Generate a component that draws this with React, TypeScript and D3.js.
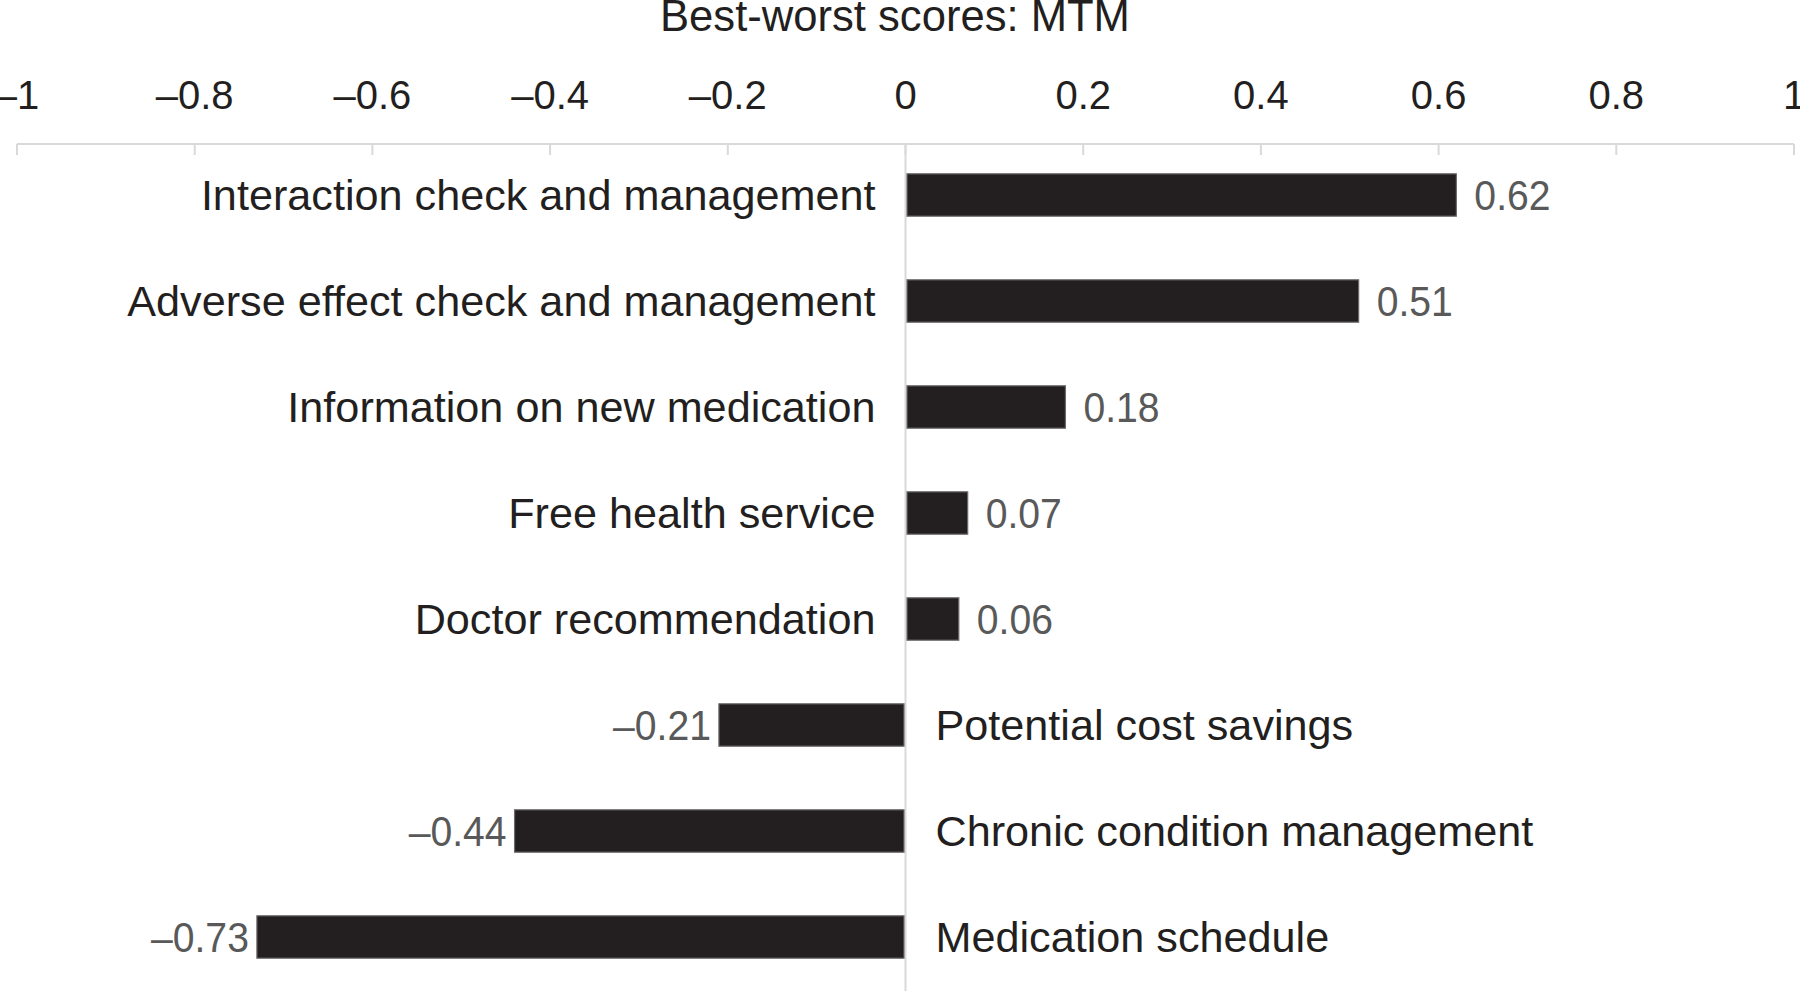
import { useEffect, useRef } from "react";
import * as d3 from "d3";

const categories = [
  "Interaction check and management",
  "Adverse effect check and management",
  "Information on new medication",
  "Free health service",
  "Doctor recommendation",
  "Potential cost savings",
  "Chronic condition management",
  "Medication schedule",
];
const scores = [0.62, 0.51, 0.18, 0.07, 0.06, -0.21, -0.44, -0.73];
const tickValues = [-1, -0.8, -0.6, -0.4, -0.2, 0, 0.2, 0.4, 0.6, 0.8, 1];
const axisTitle = "Best-worst scores: MTM";

const W = 1800;
const H = 991;
const FONT = "'Liberation Sans', Arial, Helvetica, sans-serif";

// en dash for negative numbers, like the original figure
const fmtTick = (v: number) => {
  const s = d3.format("~g")(Math.abs(v));
  return v < 0 ? "\u2013" + s : s;
};
const fmtValue = (v: number) => (v < 0 ? "\u2013" : "") + Math.abs(v).toFixed(2);

export default function App() {
  const ref = useRef<SVGSVGElement>(null);

  useEffect(() => {
    const svg = d3.select(ref.current);
    svg.selectAll("*").remove();

    const x = d3.scaleLinear().domain([-1, 1]).range([17, 1794]);
    const y = d3
      .scaleBand<string>()
      .domain(categories)
      .range([142, 990])
      .paddingInner(0.6)
      .paddingOuter(0.3);

    const axisY = 144;
    const grid = "#d9d9d9";

    // title
    svg
      .append("text")
      .attr("x", 895)
      .attr("y", 31)
      .attr("text-anchor", "middle")
      .style("font-family", FONT)
      .style("font-size", "43.6px")
      .style("fill", "#231f20")
      .text(axisTitle);

    // tick labels
    svg
      .selectAll(".tick-label")
      .data(tickValues)
      .enter()
      .append("text")
      .attr("class", "tick-label")
      .attr("x", (d) => x(d))
      .attr("y", 109)
      .attr("text-anchor", "middle")
      .style("font-family", FONT)
      .style("font-size", "40px")
      .style("fill", "#231f20")
      .text((d) => fmtTick(d));

    // axis line and ticks
    svg
      .append("line")
      .attr("x1", x(-1))
      .attr("x2", x(1))
      .attr("y1", axisY)
      .attr("y2", axisY)
      .attr("stroke", grid)
      .attr("stroke-width", 2);

    svg
      .selectAll(".tick")
      .data(tickValues)
      .enter()
      .append("line")
      .attr("x1", (d) => x(d))
      .attr("x2", (d) => x(d))
      .attr("y1", axisY)
      .attr("y2", axisY + 11)
      .attr("stroke", grid)
      .attr("stroke-width", 2);

    // zero line
    svg
      .append("line")
      .attr("x1", x(0))
      .attr("x2", x(0))
      .attr("y1", axisY)
      .attr("y2", H)
      .attr("stroke", grid)
      .attr("stroke-width", 2);

    const data = categories.map((c, i) => ({ name: c, value: scores[i] }));

    // bars
    svg
      .selectAll(".bar")
      .data(data)
      .enter()
      .append("rect")
      .attr("class", "bar")
      .attr("x", (d) => x(Math.min(0, d.value)) + (d.value > 0 ? 1.5 : 0))
      .attr("y", (d) => y(d.name) as number)
      .attr("width", (d) => Math.abs(x(d.value) - x(0)) - 1.5)
      .attr("height", y.bandwidth())
      .attr("fill", "#231f20")
      .attr("stroke", "#6b6b6b")
      .attr("stroke-width", 1.2);

    // category labels on the opposite side of zero
    svg
      .selectAll(".cat-label")
      .data(data)
      .enter()
      .append("text")
      .attr("class", "cat-label")
      .attr("x", (d) => (d.value >= 0 ? x(0) - 30 : x(0) + 30))
      .attr("y", (d) => (y(d.name) as number) + y.bandwidth() / 2)
      .attr("dy", "0.35em")
      .attr("text-anchor", (d) => (d.value >= 0 ? "end" : "start"))
      .style("font-family", FONT)
      .style("font-size", "43.2px")
      .style("fill", "#231f20")
      .text((d) => d.name);

    // value labels, slightly condensed
    svg
      .selectAll(".val-label")
      .data(data)
      .enter()
      .append("text")
      .attr("class", "val-label")
      .attr("transform", (d) => {
        const tx = d.value >= 0 ? x(d.value) + 18 : x(d.value) - 8;
        const ty = (y(d.name) as number) + y.bandwidth() / 2;
        return `translate(${tx},${ty}) scale(0.91,1)`;
      })
      .attr("dy", "0.35em")
      .attr("text-anchor", (d) => (d.value >= 0 ? "start" : "end"))
      .style("font-family", FONT)
      .style("font-size", "43px")
      .style("fill", "#595959")
      .text((d) => fmtValue(d.value));
  }, []);

  return (
    <svg
      ref={ref}
      width={W}
      height={H}
      style={{ position: "absolute", left: 0, top: 0, background: "#fff" }}
    />
  );
}
